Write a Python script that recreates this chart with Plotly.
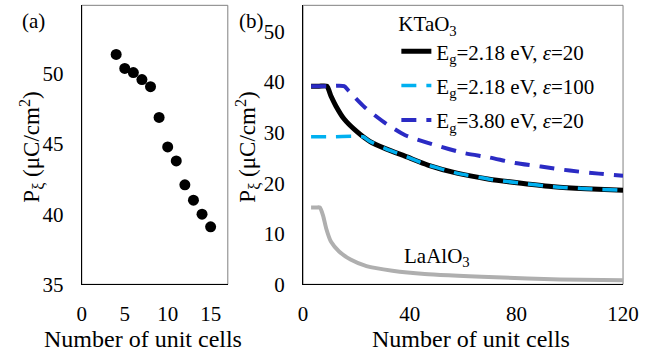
import plotly.graph_objects as go

# Panel (a): polarization vs number of unit cells
a_cells = [4, 5, 6, 7, 8, 9, 10, 11, 12, 13, 14, 15]
a_pol = [51.4, 50.4, 50.1, 49.6, 49.1, 46.9, 44.8, 43.8, 42.1, 41.0, 40.0, 39.1]

# Panel (b): KTaO3 curves and LaAlO3
k1_n = [3, 6, 8.9, 10.5, 12.3, 15.4, 20.2, 25, 31.1, 39, 46.8, 57.7, 69.8, 81.9, 94, 106.1, 120]
k1_p = [39.2, 39.2, 39.2, 37.2, 35.3, 32.7, 30.2, 28.3, 26.8, 25.2, 23.6, 22.0, 20.8, 20.0, 19.3, 18.9, 18.6]

k2_n = [3, 12, 22.5, 25, 31.1, 39, 46.8, 57.7, 69.8, 81.9, 94, 106.1, 120]
k2_p = [29.2, 29.2, 29.2, 28.3, 26.8, 25.2, 23.6, 22.0, 20.8, 20.0, 19.3, 18.9, 18.6]

k3_n = [3, 9, 15.4, 17.2, 23.2, 31.1, 38.3, 49.2, 60.1, 69.8, 79.5, 89.2, 100, 110.9, 120]
k3_p = [39.2, 39.2, 39.2, 38.2, 35.0, 31.8, 29.5, 27.6, 26.0, 25.1, 24.0, 23.3, 22.5, 21.9, 21.5]

la_n = [3, 5, 6.3, 7.5, 8.7, 10.5, 13.5, 17.8, 23.8, 33.5, 45.6, 72.2, 96.4, 120]
la_p = [15.2, 15.2, 15.2, 13.6, 11.0, 8.4, 6.5, 4.9, 3.6, 2.7, 2.05, 1.4, 0.96, 0.8]

names = ["E<sub>g</sub>=2.18 eV, <i>ε</i>=20",
         "E<sub>g</sub>=2.18 eV, <i>ε</i>=100",
         "E<sub>g</sub>=3.80 eV, <i>ε</i>=20"]

a_xticks = [0, 5, 10, 15]
a_yticks = [35, 40, 45, 50]
b_xticks = [0, 40, 80, 120]
b_yticks = [0, 10, 20, 30, 40, 50]

FONT = "Liberation Serif"
SMOOTH = 0.6

fig = go.Figure()

fig.add_trace(go.Scatter(x=a_cells, y=a_pol, mode="markers",
                         marker=dict(color="black", size=11),
                         xaxis="x", yaxis="y", showlegend=False))

fig.add_trace(go.Scatter(x=la_n, y=la_p, mode="lines",
                         line=dict(color="#AFAFAF", width=4, shape="spline", smoothing=SMOOTH),
                         xaxis="x2", yaxis="y2", showlegend=False))
fig.add_trace(go.Scatter(x=k1_n, y=k1_p, mode="lines", name=names[0],
                         line=dict(color="black", width=5, shape="spline", smoothing=SMOOTH),
                         xaxis="x2", yaxis="y2", legendgroup="g1"))
fig.add_trace(go.Scatter(x=k2_n, y=k2_p, mode="lines", name=names[1],
                         line=dict(color="#00B0F0", width=3.5, dash="15px,10px",
                                   shape="spline", smoothing=SMOOTH),
                         xaxis="x2", yaxis="y2", legendgroup="g2"))
fig.add_trace(go.Scatter(x=k3_n, y=k3_p, mode="lines", name=names[2],
                         line=dict(color="#2B2BC4", width=4, dash="15px,10px",
                                   shape="spline", smoothing=SMOOTH),
                         xaxis="x2", yaxis="y2", legendgroup="g3"))

W, H = 671, 364
axcommon = dict(showgrid=False, zeroline=False, showline=True, linecolor="black",
                linewidth=1.3, ticks="", tickfont=dict(family=FONT, size=21, color="black"))

fig.update_layout(
    width=W, height=H,
    margin=dict(l=0, r=0, t=0, b=0, pad=0),
    paper_bgcolor="white", plot_bgcolor="white",
    font=dict(family=FONT, size=21, color="black"),
    xaxis=dict(domain=[79.3 / W, 230 / W], range=[0, 17], tickvals=a_xticks,
               ticklabelstandoff=10, anchor="y", **axcommon),
    yaxis=dict(domain=[1 - 294 / H, 1 - 5.5 / H], range=[35, 54.9], tickvals=a_yticks,
               ticklabelstandoff=13, anchor="x", **axcommon),
    xaxis2=dict(domain=[307.7 / W, 638 / W], range=[0, 120], tickvals=b_xticks,
                ticklabelstandoff=10, anchor="y2", **axcommon),
    yaxis2=dict(domain=[1 - 294 / H, 1 - 5.5 / H], range=[0, 55.2], tickvals=b_yticks,
                ticklabelstandoff=13, anchor="x2", **axcommon),
    legend=dict(x=404 / W, xanchor="left", y=1 - 4 / H, yanchor="top",
                bgcolor="rgba(0,0,0,0)", borderwidth=0,
                font=dict(family=FONT, size=21, color="black"),
                title=dict(text="KTaO<sub>3</sub>", font=dict(family=FONT, size=21)),
                tracegroupgap=4, itemwidth=30),
    shapes=[
        dict(type="rect", xref="x domain", yref="y domain", x0=0, x1=1, y0=0, y1=1,
             line=dict(color="#808080", width=1), layer="below"),
        dict(type="rect", xref="x2 domain", yref="y2 domain", x0=0, x1=1, y0=0, y1=1,
             line=dict(color="#808080", width=1), layer="below"),
    ],
    annotations=[
        dict(text="(a)", x=15 / W, y=1 - 22 / H, xref="paper", yref="paper",
             xanchor="left", yanchor="middle", showarrow=False, font=dict(family=FONT, size=21)),
        dict(text="(b)", x=239 / W, y=1 - 22 / H, xref="paper", yref="paper",
             xanchor="left", yanchor="middle", showarrow=False, font=dict(family=FONT, size=21)),
        dict(text="LaAlO<sub>3</sub>", x=37, y=5.4, xref="x2", yref="y2",
             xanchor="left", yanchor="middle", showarrow=False, font=dict(family=FONT, size=21)),
        dict(text="Number of unit cells", x=142 / W, y=1 - 351 / H, xref="paper", yref="paper",
             xanchor="center", yanchor="middle", showarrow=False, font=dict(family=FONT, size=24)),
        dict(text="Number of unit cells", x=481 / W, y=1 - 351 / H, xref="paper", yref="paper",
             xanchor="center", yanchor="middle", showarrow=False, font=dict(family=FONT, size=24)),
        dict(text="P<sub>ξ</sub> (μC/cm<sup>2</sup>)", x=27 / W, y=1 - 152.5 / H,
             xref="paper", yref="paper", xanchor="center", yanchor="middle",
             textangle=-90, showarrow=False, font=dict(family=FONT, size=23)),
        dict(text="P<sub>ξ</sub> (μC/cm<sup>2</sup>)", x=250 / W, y=1 - 152.5 / H,
             xref="paper", yref="paper", xanchor="center", yanchor="middle",
             textangle=-90, showarrow=False, font=dict(family=FONT, size=23)),
    ],
)

fig.write_html("out.html",
               config={"displayModeBar": False},
               post_script="document.body.style.margin='0';document.body.style.overflow='hidden';")
